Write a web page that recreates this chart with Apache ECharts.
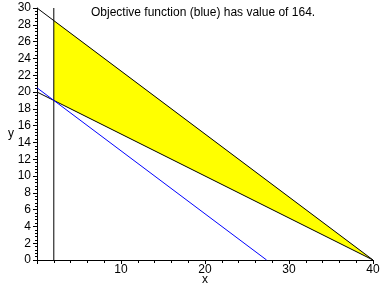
<!DOCTYPE html>
<html>
<head>
<meta charset="utf-8">
<script src="https://cdn.jsdelivr.net/npm/echarts@6/dist/echarts.min.js"></script>
<style>html,body{margin:0;padding:0;background:#fff}#c{width:388px;height:288px}</style>
</head>
<body>
<div id="c"></div>
<script>
const titleText = "Objective function (blue) has value of 164.";
const upperLine = [[0, 30], [40, 0]];
const lowerLine = [[0, 20], [40, 0]];
const verticalLine = [[2, 0], [2, 30]];
const objectiveLine = [[0, 20.5], [27.333, 0]];
const feasibleRegion = [[2, 28.5], [40, 0], [2, 19]];

const chart = echarts.init(document.getElementById('c'), null, {renderer: 'canvas'});
const font = 'Liberation Sans, Arial, sans-serif';
function lineSeries(data, color) {
  return {type: 'line', data: data, symbol: 'none', animation: false, silent: true,
    lineStyle: {color: color, width: 1}, z: 3};
}
chart.setOption({
  animation: false,
  title: {text: titleText, left: 86, top: 2,
    textStyle: {fontFamily: font, fontSize: 12, fontWeight: 'normal', color: '#000'}},
  grid: {left: 37, right: 15, top: 8, bottom: 28, containLabel: false, outerBoundsMode: 'none'},
  xAxis: {type: 'value', min: 0, max: 40, interval: 10, name: 'x', nameLocation: 'middle', nameGap: 14,
    nameMoveOverlap: false,
    nameTextStyle: {fontFamily: font, fontSize: 12, color: '#000'},
    axisLine: {onZero: false, lineStyle: {color: '#000', width: 1}},
    axisTick: {show: true, length: 4, lineStyle: {color: '#000'}},
    minorTick: {show: true, splitNumber: 5, length: 3, lineStyle: {color: '#000'}},
    splitLine: {show: false},
    axisLabel: {showMinLabel: false, margin: 4, fontFamily: font, fontSize: 12, color: '#000'}},
  yAxis: {type: 'value', min: 0, max: 30, interval: 2, name: 'y', nameLocation: 'middle', nameGap: 23, nameRotate: 0,
    nameMoveOverlap: false,
    nameTextStyle: {fontFamily: font, fontSize: 12, color: '#000'},
    axisLine: {show: true, onZero: false, lineStyle: {color: '#000', width: 1}},
    axisTick: {show: true, length: 4, lineStyle: {color: '#000'}},
    minorTick: {show: true, splitNumber: 5, length: 2, lineStyle: {color: '#000'}},
    splitLine: {show: false},
    axisLabel: {margin: 6, fontFamily: font, fontSize: 12, color: '#000'}},
  series: [
    {type: 'custom', animation: false, silent: true, z: 1,
      data: feasibleRegion,
      renderItem: function (params, api) {
        if (params.dataIndex !== 0) return null;
        const pts = feasibleRegion.map(p => api.coord(p));
        return {type: 'polygon', shape: {points: pts}, style: {fill: '#ffff00', stroke: null}};
      }},
    lineSeries(upperLine, '#000'),
    lineSeries(lowerLine, '#000'),
    lineSeries(verticalLine, '#000'),
    lineSeries(objectiveLine, '#0000ff')
  ]
});
</script>
</body>
</html>
